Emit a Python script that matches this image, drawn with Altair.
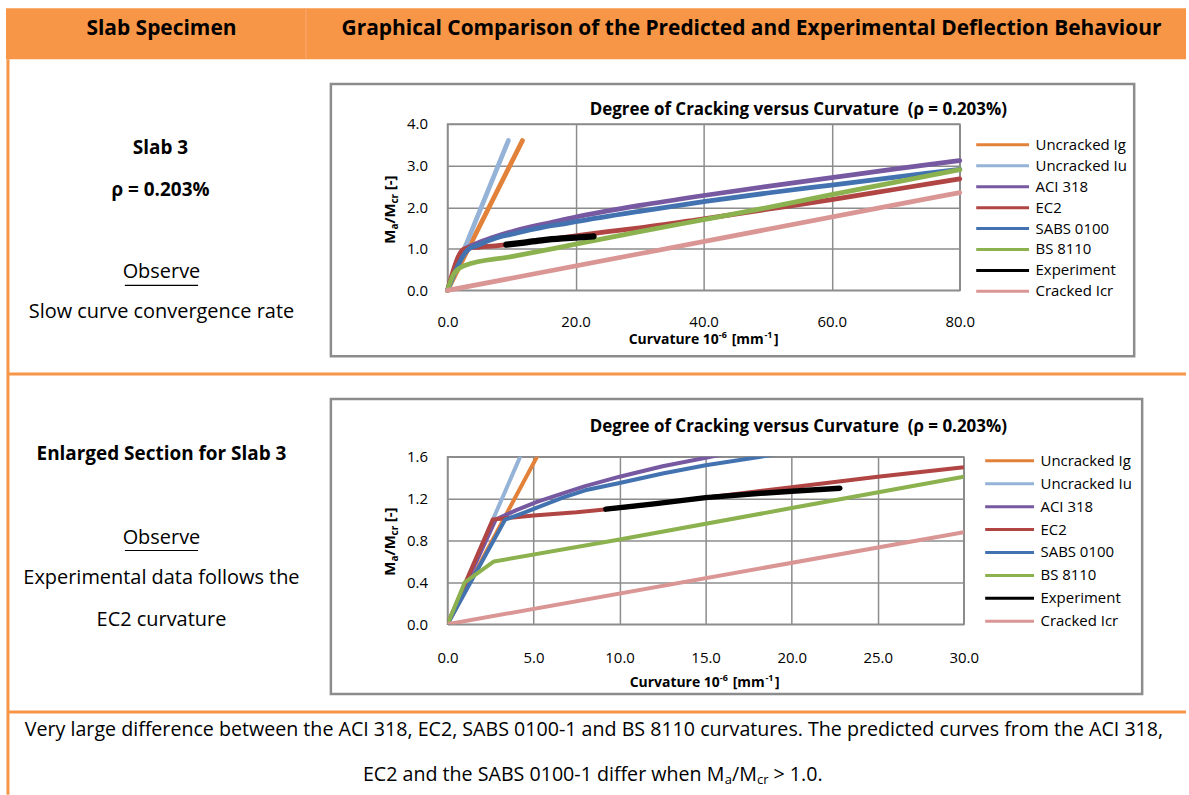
import altair as alt
import pandas as pd

FONT = "Open Sans"
ORANGE = "#F79646"
GRID = "#8C8C8C"

# ---- series: curvature (1e-6 / mm) against degree of cracking Ma/Mcr ----
SERIES = ["Uncracked Ig", "Uncracked Iu", "ACI 318", "EC2", "SABS 0100",
          "BS 8110", "Experiment", "Cracked Icr"]
COLORS = ["#E2823A", "#95B3D7", "#7659A1", "#B04543", "#4272B0",
          "#8CB14F", "#000000", "#DA9694"]

ig_x = [0.0, 11.7]
ig_y = [0.0, 3.6]
iu_x = [0.0, 9.5]
iu_y = [0.0, 3.6]
aci_x = [0.0, 2.8, 4.0, 5.2, 6.7, 8.0, 10.0, 12.5, 15.0, 20.0, 30.0, 40.0, 50.0, 60.0, 70.0, 80.0]
aci_y = [0.0, 1.0, 1.09, 1.17, 1.25, 1.32, 1.41, 1.51, 1.59, 1.76, 2.04, 2.28, 2.50, 2.71, 2.92, 3.12]
ec2_x = [0.0, 2.63, 5.0, 7.5, 10.0, 15.0, 20.0, 25.0, 30.0, 40.0, 50.0, 60.0, 70.0, 80.0]
ec2_y = [0.0, 1.0, 1.04, 1.07, 1.11, 1.21, 1.31, 1.41, 1.50, 1.72, 1.95, 2.18, 2.43, 2.68]
sabs_x = [0.0, 3.35, 4.5, 6.7, 8.0, 10.0, 12.5, 15.0, 18.2, 20.0, 30.0, 40.0, 50.0, 60.0, 70.0, 80.0]
sabs_y = [0.0, 1.0, 1.07, 1.21, 1.28, 1.35, 1.44, 1.52, 1.60, 1.65, 1.90, 2.13, 2.34, 2.53, 2.72, 2.91]
bs_x = [0.0, 1.0, 2.7, 10.0, 20.0, 30.0, 40.0, 50.0, 60.0, 70.0, 80.0]
bs_y = [0.0, 0.4, 0.6, 0.81, 1.11, 1.41, 1.70, 1.99, 2.30, 2.60, 2.90]
exp_x = [9.2, 12.0, 15.0, 18.0, 20.0, 22.8]
exp_y = [1.10, 1.15, 1.21, 1.25, 1.27, 1.30]
icr_x = [0.0, 30.0, 80.0]
icr_y = [0.0, 0.88, 2.35]

CURVES = [(ig_x, ig_y), (iu_x, iu_y), (aci_x, aci_y), (ec2_x, ec2_y),
          (sabs_x, sabs_y), (bs_x, bs_y), (exp_x, exp_y), (icr_x, icr_y)]

rows = []
for name, (xs, ys) in zip(SERIES, CURVES):
    for k, (cx, cy) in enumerate(zip(xs, ys)):
        rows.append({"series": name, "k": k, "curvature": cx, "ratio": cy})
df = pd.DataFrame(rows)

one = pd.DataFrame({"z": [0]})

# approximate advance widths (em) used to lay out sub/superscript runs
REG = {" ": .26, ".": .274, ",": .244, "-": .322, ">": .572, "/": .367, "[": .306,
       "]": .306, "A": .633, "B": .648, "C": .631, "D": .729, "E": .556, "G": .728,
       "I": .279, "M": .903, "S": .547, "T": .56, "a": .556, "b": .613, "c": .476,
       "d": .613, "e": .561, "f": .339, "g": .548, "h": .614, "i": .253, "k": .525,
       "l": .253, "m": .93, "n": .614, "o": .604, "p": .613, "r": .408, "s": .477,
       "t": .353, "u": .614, "v": .501, "w": .778, "y": .5}
for d in "0123456789":
    REG[d] = .572


def text_w(s, size, bold):
    f = 1.06 if bold else 1.0
    return sum(REG.get(ch, .55) for ch in s) * size * f


def label(ox, oy, X, Y, s, size, bold=False, align="center", angle=0):
    return alt.Chart(one).mark_text(
        text=s, font=FONT, fontSize=size, fontWeight="bold" if bold else "normal",
        align=align, baseline="middle", angle=angle, color="#000000"
    ).encode(x=alt.value(X - ox), y=alt.value(Y - oy))


def run_len(pieces, bold):
    return sum(text_w(s, sz, bold) + g * sz * .26 for s, sz, _, g in pieces)


def run_h(ox, oy, cx, cy, pieces, bold):
    """Horizontal run of pieces (text, size, shift, gap) centred on cx."""
    cur = cx - run_len(pieces, bold) / 2
    out = []
    for s, sz, sh, g in pieces:
        cur += g * sz * .26
        out.append(label(ox, oy, cur, cy + sh, s, sz, bold, align="left"))
        cur += text_w(s, sz, bold)
    return out


def run_v(ox, oy, cx, cy, pieces, bold):
    """Vertical (bottom-to-top) run of pieces centred on cy."""
    cur = cy + run_len(pieces, bold) / 2
    out = []
    for s, sz, sh, g in pieces:
        cur -= g * sz * .26
        out.append(label(ox, oy, cx + sh, cur, s, sz, bold, align="left", angle=270))
        cur -= text_w(s, sz, bold)
    return out


def rule(ox, oy, X1, Y1, X2, Y2, color, w):
    return alt.Chart(one).mark_rule(color=color, strokeWidth=w).encode(
        x=alt.value(X1 - ox), x2=alt.value(X2 - ox),
        y=alt.value(Y1 - oy), y2=alt.value(Y2 - oy))


def box(ox, oy, X1, Y1, X2, Y2, fill=None, stroke=None, w=0, opacity=1.0):
    kw = dict(strokeWidth=w, opacity=opacity)
    if fill:
        kw["fill"] = fill
    else:
        kw["fillOpacity"] = 0
        kw["fill"] = "#ffffff"
    if stroke:
        kw["stroke"] = stroke
    return alt.Chart(one).mark_rect(**kw).encode(
        x=alt.value(X1 - ox), x2=alt.value(X2 - ox),
        y=alt.value(Y1 - oy), y2=alt.value(Y2 - oy))


YT = [("M", 15, 0, 0), ("a", 10, 5, 0), ("/M", 15, 0, 0), ("cr", 10, 5, 0), ("[-]", 15, 0, 1)]
XT = [("Curvature 10", 14, 0, 0), ("-6", 9, -5, 0.3), ("[mm", 14, 0, 1.2), ("-1", 9, -5, 0.3),
      ("]", 14, 0, 0.3)]
TITLE = "Degree of Cracking versus Curvature\u00a0 (\u03c1 = 0.203%)"


def panel(ox, oy, xmax, ymax, xticks, yticks, lw, interp, clip,
          xlabpad, ylabpad, legx, legy, symlen, rowh, box_xy, title_xy, ytitle_xy, xtitle_xy):
    lines = alt.Chart(df).mark_line(
        interpolate=interp, clip=clip, strokeCap="round", strokeJoin="round"
    ).encode(
        x=alt.X("curvature:Q",
                scale=alt.Scale(domain=[0, xmax], nice=False, zero=True),
                axis=alt.Axis(values=xticks, format=".1f", grid=True, ticks=False,
                              domain=False, labelPadding=xlabpad, labelFontSize=15,
                              labelFont=FONT, labelColor="#000000", gridColor=GRID,
                              gridWidth=1.5, gridOpacity=1, title=None, labelFlush=False)),
        y=alt.Y("ratio:Q",
                scale=alt.Scale(domain=[0, ymax], nice=False, zero=True),
                axis=alt.Axis(values=yticks, format=".1f", grid=True, ticks=False,
                              domain=False, labelPadding=ylabpad, labelFontSize=15,
                              labelFont=FONT, labelColor="#000000", gridColor=GRID,
                              gridWidth=1.5, gridOpacity=1, title=None, labelFlush=False)),
        color=alt.Color("series:N", scale=alt.Scale(domain=SERIES, range=COLORS),
                        legend=alt.Legend(orient="none", legendX=legx, legendY=legy,
                                          title=None, symbolType="stroke",
                                          symbolSize=symlen * symlen, symbolStrokeWidth=3,
                                          clipHeight=rowh, rowPadding=0, padding=0,
                                          labelFontSize=15, labelFont=FONT,
                                          labelColor="#000000", labelOffset=5)),
        order=alt.Order("k:Q"),
        strokeWidth=alt.condition(alt.datum.series == "Experiment",
                                  alt.value(lw + 1.5), alt.value(lw)),
    )
    bx1, by1, bx2, by2 = box_xy
    parts = [box(ox, oy, bx1, by1, bx2, by2, stroke=GRID, w=2.5)]
    parts.append(label(ox, oy, title_xy[0], title_xy[1], TITLE, 17, bold=True))
    parts += run_v(ox, oy, ytitle_xy[0], ytitle_xy[1], YT, True)
    parts += run_h(ox, oy, xtitle_xy[0], xtitle_xy[1], XT, True)
    return parts, lines


# ---- upper panel: full range, plus the surrounding table ----
O1X, O1Y = 448, 122
page = [box(O1X, O1Y, 0, 0, 1189, 795, opacity=0)]
page.append(box(O1X, O1Y, 5, 6, 1189, 57, fill=ORANGE))
page.append(rule(O1X, O1Y, 306, 6, 306, 57, "#F9AA72", 1))
page.append(label(O1X, O1Y, 161, 27, "Slab Specimen", 21, bold=True))
page.append(label(O1X, O1Y, 753, 27,
                  "Graphical Comparison of the Predicted and Experimental Deflection Behaviour",
                  21, bold=True))
page.append(rule(O1X, O1Y, 7, 57, 7, 795, ORANGE, 3))
page.append(rule(O1X, O1Y, 7, 373, 1189, 373, ORANGE, 3))
page.append(rule(O1X, O1Y, 7, 712, 1189, 712, ORANGE, 3))

# left column notes
page.append(label(O1X, O1Y, 160, 146, "Slab 3", 19, bold=True))
page.append(label(O1X, O1Y, 160, 188, "\u03c1 = 0.203%", 19, bold=True))
page.append(label(O1X, O1Y, 161, 271, "Observe", 20))
obs_w = text_w("Observe", 20, False)
page.append(rule(O1X, O1Y, 161 - obs_w / 2, 284, 161 + obs_w / 2, 284, "#000000", 1.2))
page.append(label(O1X, O1Y, 161, 311, "Slow curve convergence rate", 20))
page.append(label(O1X, O1Y, 161, 453, "Enlarged Section for Slab 3", 19, bold=True))
page.append(label(O1X, O1Y, 161, 537, "Observe", 20))
page.append(rule(O1X, O1Y, 161 - obs_w / 2, 550, 161 + obs_w / 2, 550, "#000000", 1.2))
page.append(label(O1X, O1Y, 161, 578, "Experimental data follows the", 20))
page.append(label(O1X, O1Y, 161, 620, "EC2 curvature", 20))

# summary row
page.append(label(O1X, O1Y, 595, 730,
                  "Very large difference between the ACI 318, EC2, SABS 0100-1 and BS 8110 "
                  "curvatures. The predicted curves from the ACI 318,", 19.7))
page += run_h(O1X, O1Y, 594, 775,
              [("EC2 and the SABS 0100-1 differ when M", 19.7, 0, 0), ("a", 13, 5, 0),
               ("/M", 19.7, 0, 0), ("cr", 13, 5, 0), ("> 1.0.", 19.7, 0, 1)], False)

deco1, lines1 = panel(O1X, O1Y, 80, 4.0, [0, 20, 40, 60, 80],
                      [0, 1, 2, 3, 4], 4.8, "monotone", False, 24, 20,
                      977 - O1X, 143 - O1Y - 10.3, 53, 20.6,
                      (331, 82, 1137, 355), (800, 108), (390, 208), (705, 339))
top = alt.layer(*page, *deco1, lines1).properties(width=514, height=167)

# ---- lower panel: enlarged section ----
O2X, O2Y = 448, 456
deco2, lines2 = panel(O2X, O2Y, 30, 1.6, [0, 5, 10, 15, 20, 25, 30],
                      [0, 0.4, 0.8, 1.2, 1.6], 4.0, "linear", True, 26, 20,
                      986 - O2X, 460 - O2Y - 11.5, 49, 23,
                      (331, 398, 1145, 694), (800, 426), (390, 541), (706, 683))
bottom = alt.layer(*deco2, lines2).properties(width=518, height=168)

chart = alt.vconcat(top, bottom, spacing=167, bounds="flush").resolve_scale(
    x="independent", y="independent", color="independent"
).resolve_legend(color="independent").properties(
    padding=0, background="white"
).configure_view(stroke=GRID, strokeWidth=1.5)

chart.save("out.html", embed_options={"renderer": "svg", "actions": False})
